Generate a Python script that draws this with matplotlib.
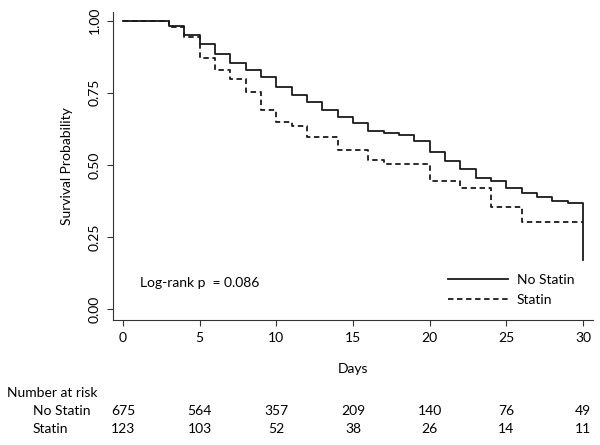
import matplotlib.pyplot as plt
from matplotlib.lines import Line2D

plt.rcParams['font.family'] = ['Lato', 'DejaVu Sans']

# Kaplan-Meier step values
days_no_statin = [0, 3, 4, 5, 6, 7, 8, 9, 10, 11, 12, 13, 14, 15, 16, 17, 18, 19, 20,
                  21, 22, 23, 24, 25, 26, 27, 28, 29, 30]
surv_no_statin = [1.0, 0.98, 0.951, 0.92, 0.885, 0.853, 0.829, 0.805, 0.77, 0.743, 0.718,
                  0.691, 0.666, 0.645, 0.619, 0.612, 0.602, 0.581, 0.544, 0.515, 0.486,
                  0.454, 0.444, 0.419, 0.402, 0.388, 0.376, 0.367, 0.17]

days_statin = [0, 3, 4, 5, 6, 7, 8, 9, 10, 11, 12, 14, 16, 17, 20, 22, 24, 26, 30]
surv_statin = [1.0, 0.978, 0.944, 0.87, 0.83, 0.797, 0.752, 0.691, 0.65, 0.635, 0.595,
               0.55, 0.517, 0.502, 0.444, 0.421, 0.353, 0.303, 0.303]

risk_days = [0, 5, 10, 15, 20, 25, 30]
risk_no_statin = [675, 564, 357, 209, 140, 76, 49]
risk_statin = [123, 103, 52, 38, 26, 14, 11]

W, H = 600, 445
fs = 10
fig = plt.figure(figsize=(6, 4.45), dpi=100)
ax = fig.add_axes([113 / W, 1 - 320 / H, 480 / W, 308 / H])

ax.step(days_no_statin, surv_no_statin, where='post', color='#1a1a1a', lw=1.3)
ax.step(days_statin, surv_statin, where='post', color='#1a1a1a', lw=1.3,
        linestyle=(0, (3, 2)))

ax.set_xlim(-0.65, 30.65)
ax.set_ylim(-0.038, 1.03)
ax.set_xticks([0, 5, 10, 15, 20, 25, 30])
ax.set_yticks([0, 0.25, 0.5, 0.75, 1.0])
ax.set_yticklabels(['0.00', '0.25', '0.50', '0.75', '1.00'], rotation=90, va='center')
ax.tick_params(labelsize=fs, length=4, width=0.8, color='#333333', pad=5)
for s in ['top', 'right']:
    ax.spines[s].set_visible(False)
for s in ['left', 'bottom']:
    ax.spines[s].set_color('#333333')
    ax.spines[s].set_linewidth(0.8)

ax.set_ylabel('Survival Probability', fontsize=fs, labelpad=11)
ax.set_xlabel('Days', fontsize=fs, labelpad=13)

ax.text(1.1, 0.09, 'Log-rank p  = 0.086', fontsize=fs, va='center')

handles = [Line2D([], [], color='#1a1a1a', lw=1.3),
           Line2D([], [], color='#1a1a1a', lw=1.3, linestyle=(0, (3, 2)))]
fig.legend(handles, ['No Statin', 'Statin'], loc='upper left',
           bbox_to_anchor=(448 / W, 1 - 274 / H), frameon=False, fontsize=fs,
           handlelength=4.3, handletextpad=0.65, labelspacing=0.55,
           borderpad=0, borderaxespad=0)

# number at risk table
fig.text(7 / W, 1 - 393 / H, 'Number at risk', fontsize=fs, va='center')
fig.text(33 / W, 1 - 411 / H, 'No Statin', fontsize=fs, va='center')
fig.text(33 / W, 1 - 429 / H, 'Statin', fontsize=fs, va='center')
for d, a, b in zip(risk_days, risk_no_statin, risk_statin):
    xf = fig.transFigure.inverted().transform(ax.transData.transform((d, 0)))[0]
    fig.text(xf, 1 - 411 / H, str(a), fontsize=fs, va='center', ha='center')
    fig.text(xf, 1 - 429 / H, str(b), fontsize=fs, va='center', ha='center')

fig.savefig('out.png', dpi=100)
